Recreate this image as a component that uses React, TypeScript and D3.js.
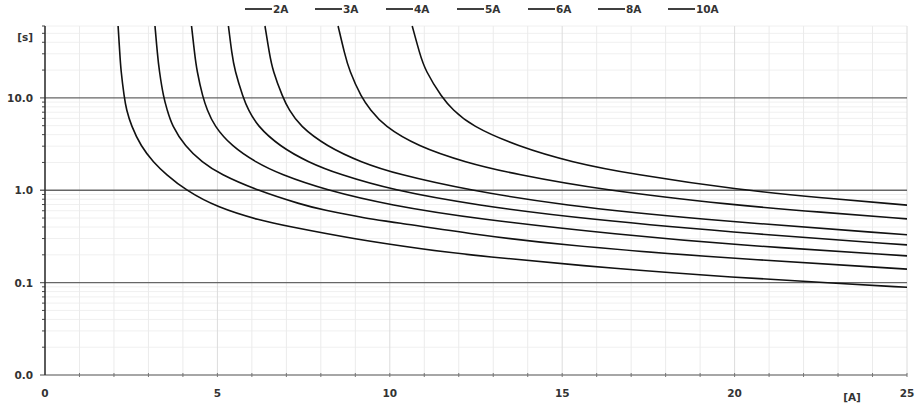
import React from "react";
import * as d3 from "d3";

// ---- data ----
const seriesNames = ["2A", "3A", "4A", "5A", "6A", "8A", "10A"];

const curve2A: [number, number][] = [
  [2.12, 60], [2.17, 30], [2.2, 20], [2.3, 10], [2.36, 7.5], [2.5, 5], [2.78, 3], [3.15, 2],
  [3.5, 1.5], [4.08, 1], [5.0, 0.65], [6.25, 0.47], [7.0, 0.41], [9.0, 0.294], [11.0, 0.229],
  [12.5, 0.195], [16.66, 0.14], [20, 0.114], [22.8, 0.099], [25, 0.089],
];
const curve3A: [number, number][] = [
  [3.19, 60], [3.26, 30], [3.31, 20], [3.44, 10], [3.54, 7.5], [3.68, 5], [4.06, 3], [4.56, 2],
  [5.07, 1.5], [6.14, 1], [7.5, 0.69], [8.0, 0.62], [9.38, 0.49], [10, 0.46], [12.5, 0.33],
  [15, 0.256], [18.75, 0.195], [25, 0.14],
];
const curve4A: [number, number][] = [
  [4.25, 60], [4.34, 30], [4.4, 20], [4.58, 10], [4.7, 7.5], [4.9, 5], [5.41, 3], [6.12, 2],
  [6.8, 1.5], [8.16, 1], [10, 0.69], [12.5, 0.49], [16.67, 0.33], [20, 0.256], [25, 0.195],
];
const curve5A: [number, number][] = [
  [5.32, 60], [5.42, 30], [5.5, 20], [5.75, 10], [5.89, 7.5], [6.15, 5], [6.8, 3], [7.65, 2],
  [8.5, 1.5], [10.1, 1], [12.5, 0.69], [15.6, 0.49], [20.8, 0.33], [25, 0.256],
];
const curve6A: [number, number][] = [
  [6.38, 60], [6.51, 30], [6.6, 20], [6.9, 10], [7.07, 7.5], [7.38, 5], [8.16, 3], [9.18, 2],
  [10.2, 1.5], [12.3, 1], [15, 0.69], [18.75, 0.49], [25, 0.33],
];
const curve8A: [number, number][] = [
  [8.5, 60], [8.69, 30], [8.82, 20], [9.18, 10], [9.43, 7.5], [9.82, 5], [10.8, 3], [12.2, 2],
  [13.6, 1.5], [16.2, 1], [20, 0.69], [22.5, 0.578], [25, 0.49],
];
const curve10A: [number, number][] = [
  [10.65, 60], [10.87, 30], [11.02, 20], [11.52, 10], [11.82, 7.5], [12.35, 5], [13.7, 3],
  [15.3, 2], [17.0, 1.5], [20.2, 1], [22.5, 0.83], [25, 0.69],
];
const curves = [curve2A, curve3A, curve4A, curve5A, curve6A, curve8A, curve10A];

const xTicks = [0, 5, 10, 15, 20, 25];
const yTicks = [0.01, 0.1, 1, 10];
const yTickLabels = ["0.0", "0.1", "1.0", "10.0"];

// ---- layout ----
const W = 918;
const H = 406;
const FONT = "'DejaVu Sans', sans-serif";

export default function App() {
  const x = d3.scaleLinear().domain([0, 25]).range([45, 907]);
  const y = d3.scaleLog().domain([0.01, 60]).range([375, 26]);

  const line = d3
    .line<[number, number]>()
    .x((d) => x(d[0]))
    .y((d) => y(d[1]))
    .curve(d3.curveBasis);

  const intX = d3.range(1, 26);
  const minorY: number[] = [];
  [0.01, 0.1, 1, 10].forEach((dec) => {
    for (let k = 2; k <= 9; k++) {
      const v = k * dec;
      if (v <= 60.0001) minorY.push(v);
    }
  });

  const legendStarts = [245, 315, 386, 457, 528, 598, 668];

  return (
    <svg
      width={W}
      height={H}
      style={{ position: "absolute", left: 0, top: 0, background: "#fff" }}
      fontFamily={FONT}
    >
      {/* minor horizontal grid */}
      {minorY.map((v, i) => (
        <line key={"mh" + i} x1={x(0)} x2={x(25)} y1={y(v)} y2={y(v)} stroke="#f0f0f0" strokeWidth={1} />
      ))}
      {/* vertical grid */}
      {intX.map((v) => (
        <line
          key={"vg" + v}
          x1={x(v)}
          x2={x(v)}
          y1={y(60)}
          y2={y(0.01)}
          stroke={v % 5 === 0 ? "#dcdcdc" : "#ebebeb"}
          strokeWidth={1}
        />
      ))}
      {/* major horizontal lines */}
      {yTicks.map((v, i) => (
        <line
          key={"mj" + i}
          x1={x(0) - 5}
          x2={x(25)}
          y1={y(v)}
          y2={y(v)}
          stroke={i === 0 ? "#888" : "#666"}
          strokeWidth={1.4}
        />
      ))}
      {/* y minor ticks */}
      {minorY.map((v, i) => (
        <line key={"yt" + i} x1={x(0) - 3} x2={x(0)} y1={y(v)} y2={y(v)} stroke="#444" strokeWidth={1} />
      ))}
      {/* x minor ticks */}
      {intX.map((v) => (
        <line key={"xt" + v} x1={x(v)} x2={x(v)} y1={y(0.01) - 2} y2={y(0.01) + 2} stroke="#777" strokeWidth={1} />
      ))}
      {/* left axis */}
      <line x1={x(0)} x2={x(0)} y1={y(60)} y2={y(0.01)} stroke="#333" strokeWidth={1.6} />

      {/* curves */}
      {curves.map((c, i) => (
        <path key={"c" + i} d={line(c) || ""} fill="none" stroke="#111" strokeWidth={1.6} />
      ))}

      {/* y labels */}
      {yTicks.map((v, i) => (
        <text
          key={"yl" + i}
          x={33}
          y={y(v)}
          textAnchor="end"
          dominantBaseline="central"
          fontSize={10.5}
          fontWeight="bold"
          fill="#333"
        >
          {yTickLabels[i]}
        </text>
      ))}
      <text x={33} y={37} textAnchor="end" dominantBaseline="central" fontSize={10.5} fontWeight="bold" fill="#333">
        [s]
      </text>

      {/* x labels */}
      {xTicks.map((v) => (
        <text
          key={"xl" + v}
          x={x(v)}
          y={393}
          textAnchor="middle"
          dominantBaseline="central"
          fontSize={10.5}
          fontWeight="bold"
          fill="#333"
        >
          {v}
        </text>
      ))}
      <text x={852} y={397} textAnchor="middle" dominantBaseline="central" fontSize={10.5} fontWeight="bold" fill="#333">
        [A]
      </text>

      {/* legend */}
      {seriesNames.map((name, i) => (
        <g key={"lg" + name}>
          <line x1={legendStarts[i]} x2={legendStarts[i] + 27} y1={9} y2={9} stroke="#111" strokeWidth={1.6} />
          <text
            x={legendStarts[i] + 28}
            y={9}
            dominantBaseline="central"
            fontSize={10.5}
            fontWeight="bold"
            fill="#333"
          >
            {name}
          </text>
        </g>
      ))}
    </svg>
  );
}
